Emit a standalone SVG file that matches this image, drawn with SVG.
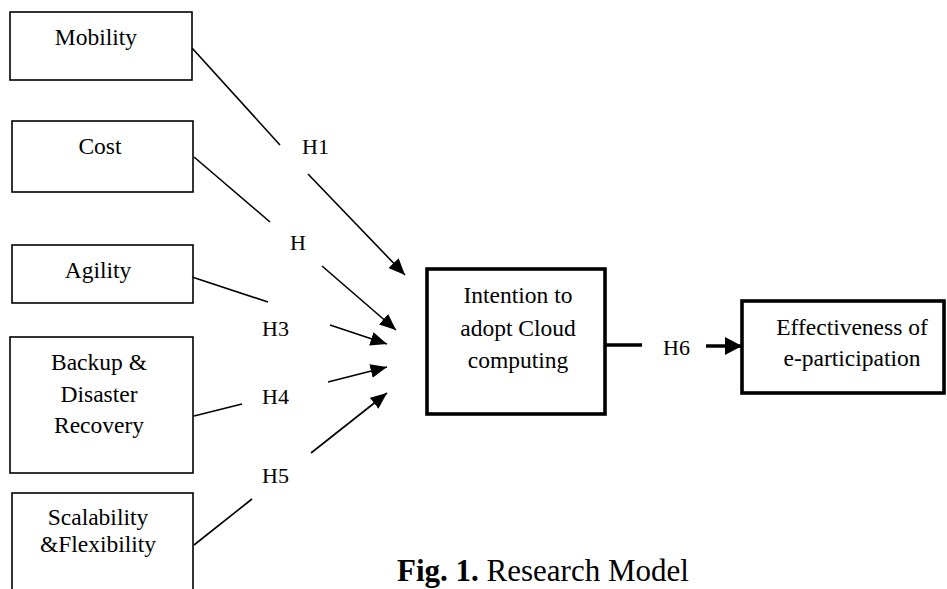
<svg xmlns="http://www.w3.org/2000/svg" width="947" height="589" viewBox="0 0 947 589">
<style>
.box{fill:#fff;stroke:#000;stroke-width:1.6}
.bold{fill:#fff;stroke:#000;stroke-width:3.6}
text{font-family:'Liberation Serif','Times New Roman',serif;fill:#000}
.t{font-size:23.5px;text-anchor:middle}
.h{font-size:22px}
.ln{stroke:#000;stroke-width:1.6;fill:none}
.lnb{stroke:#000;stroke-width:3.6;fill:none}
</style>
<defs>
<marker id="ah" markerUnits="userSpaceOnUse" markerWidth="17" markerHeight="14" refX="16.5" refY="7" orient="auto">
<path d="M0,0 L16.5,7 L0,14 z" fill="#000"/>
</marker>
<marker id="ahb" markerUnits="userSpaceOnUse" markerWidth="18" markerHeight="18" refX="17" refY="9" orient="auto">
<path d="M0,0 L17,9 L0,18 z" fill="#000"/>
</marker>
</defs>
<rect width="947" height="589" fill="#fff"/>

<g id="mobility">
<rect class="box" x="10" y="12" width="182" height="68"/>
<text class="t" font-family="Liberation Serif, serif" x="96" y="45">Mobility</text>
</g>
<g id="cost">
<rect class="box" x="12" y="121" width="181" height="71"/>
<text class="t" font-family="Liberation Serif, serif" x="100" y="154">Cost</text>
</g>
<g id="agility">
<rect class="box" x="12" y="245" width="181" height="58"/>
<text class="t" font-family="Liberation Serif, serif" x="98" y="278">Agility</text>
</g>
<g id="backup">
<rect class="box" x="10" y="337" width="183" height="136"/>
<text class="t" font-family="Liberation Serif, serif" x="99" y="370">Backup &amp;</text>
<text class="t" font-family="Liberation Serif, serif" x="99" y="402">Disaster</text>
<text class="t" font-family="Liberation Serif, serif" x="99" y="433">Recovery</text>
</g>
<g id="scalability">
<rect class="box" x="12" y="493" width="181" height="120"/>
<text class="t" font-family="Liberation Serif, serif" x="98" y="525">Scalability</text>
<text class="t" font-family="Liberation Serif, serif" x="98" y="552">&amp;Flexibility</text>
</g>
<g id="intention">
<rect class="bold" x="427" y="269" width="178" height="145"/>
<text class="t" font-family="Liberation Serif, serif" x="518" y="303">Intention to</text>
<text class="t" font-family="Liberation Serif, serif" x="518" y="336">adopt Cloud</text>
<text class="t" font-family="Liberation Serif, serif" x="518" y="368">computing</text>
</g>
<g id="effectiveness">
<rect class="bold" x="742" y="301" width="202" height="92"/>
<text class="t" font-family="Liberation Serif, serif" x="852" y="335">Effectiveness of</text>
<text class="t" font-family="Liberation Serif, serif" x="852" y="366">e-participation</text>
</g>

<g id="connectors">
<line class="ln" x1="192" y1="48" x2="280" y2="145"/>
<line class="ln" x1="308" y1="174" x2="405" y2="275" marker-end="url(#ah)"/>
<line class="ln" x1="194" y1="157" x2="270" y2="222"/>
<line class="ln" x1="322" y1="266" x2="396" y2="330" marker-end="url(#ah)"/>
<line class="ln" x1="192" y1="277" x2="268" y2="302"/>
<line class="ln" x1="330" y1="325" x2="387" y2="344" marker-end="url(#ah)"/>
<line class="ln" x1="194" y1="416" x2="242" y2="404"/>
<line class="ln" x1="328" y1="382" x2="387" y2="367" marker-end="url(#ah)"/>
<line class="ln" x1="194" y1="545" x2="252" y2="499"/>
<line class="ln" x1="311" y1="453" x2="387" y2="393" marker-end="url(#ah)"/>
<line class="lnb" x1="605" y1="345" x2="642" y2="345"/>
<line class="lnb" x1="706" y1="346" x2="742" y2="346" marker-end="url(#ahb)"/>
<text class="h" font-family="Liberation Serif, serif" x="302" y="154">H1</text>
<text class="h" font-family="Liberation Serif, serif" x="290" y="250">H</text>
<text class="h" font-family="Liberation Serif, serif" x="262" y="336">H3</text>
<text class="h" font-family="Liberation Serif, serif" x="262" y="404">H4</text>
<text class="h" font-family="Liberation Serif, serif" x="262" y="483">H5</text>
<text class="h" font-family="Liberation Serif, serif" x="663" y="355">H6</text>
</g>

<text x="397" y="581" font-family="Liberation Serif, serif" font-size="31"><tspan font-weight="bold">Fig. 1.</tspan> Research Model</text>
</svg>
